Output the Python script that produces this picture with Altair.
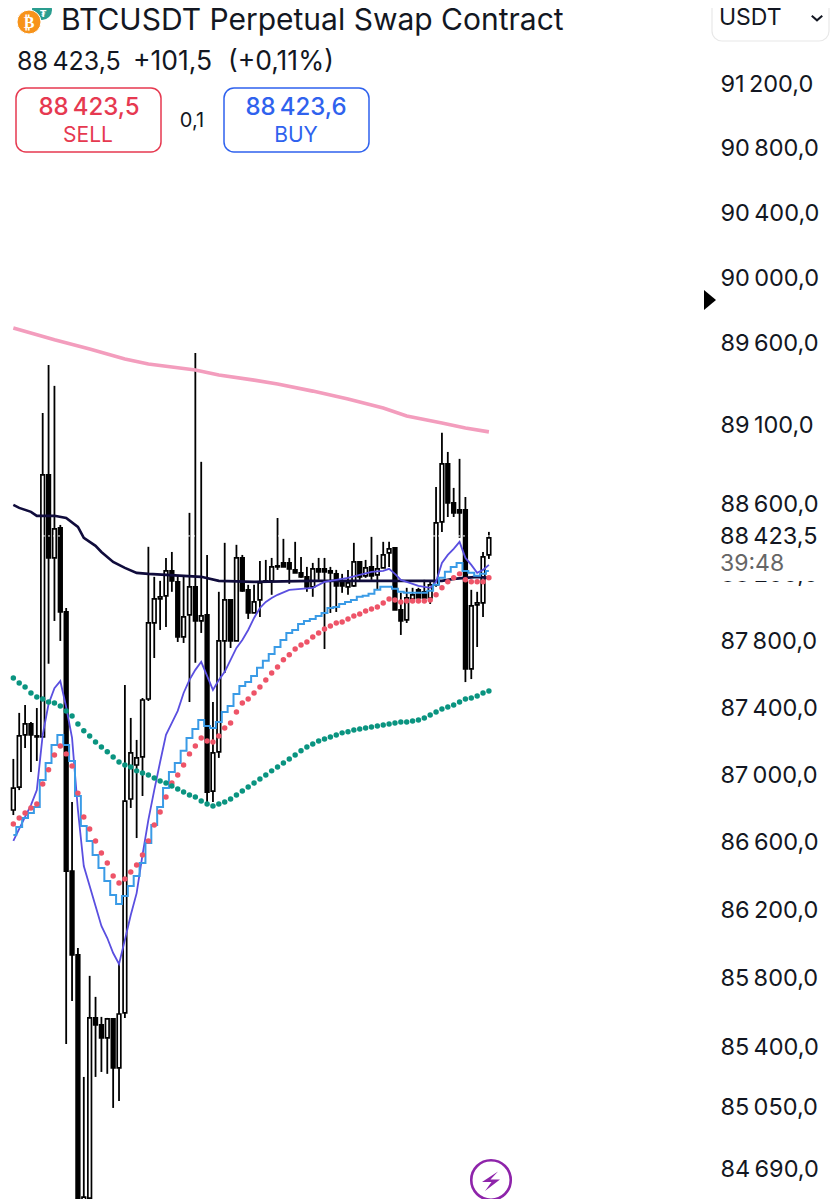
import altair as alt
import pandas as pd

opens = [86785,86921,87231,87296,87225,87219,88793,88291,88472,87966,86424,85931,84470,84516,85562,85521,85445,85556,85271,85591,
         86850,87052,87100,87445,87900,88044,88063,88213,88147,87816,87948,88117,87912,87948,86897,87130,87792,88038,87792,88291,
         88099,87960,88038,88153,88153,88243,88261,88261,88219,88201,88177,88117,88225,88225,88213,88195,88141,88117,88123,88267,
         88183,88237,88189,88231,88321,88352,87978,87918,88044,88099,88087,88050,88129,88508,88860,88623,88581,88581,87625,88008,88020,88309]
closes = [86915,87225,87296,87231,87219,88793,88291,88466,87966,86424,85931,84470,84522,85562,85521,85445,85556,85271,85585,86838,
          87124,87094,87439,87900,88044,88057,88213,88153,87816,87936,88117,87912,87942,86891,87124,87792,88038,87792,88291,88093,
          87960,88026,88141,88147,88237,88237,88237,88225,88201,88177,88117,88225,88207,88207,88201,88123,88123,88141,88267,88177,
          88231,88183,88225,88309,88346,87978,87912,88050,88069,88050,88050,88129,88502,88860,88623,88563,88563,87625,88002,88020,88297,88412]
highs = [87088,87362,87409,87308,87391,89169,89461,89334,88490,87990,86832,85972,85218,85808,85685,85568,85562,85556,85884,87528,
         87332,87201,87451,88358,88177,88153,88291,88327,88183,88177,88563,89535,88872,88309,87427,88087,88382,88038,88370,88309,
         88129,88129,88273,88279,88291,88532,88406,88291,88388,88297,88237,88261,88291,88291,88237,88219,88195,88219,88382,88267,
         88279,88418,88309,88388,88388,88352,88081,88111,88111,88111,88159,88147,88720,89048,88932,88714,88890,88659,88099,88087,88327,88448]
lows = [86755,86903,87153,87010,87076,87219,87655,87912,87792,85410,85661,84470,84470,84470,85218,85247,85236,85038,85078,85562,
        86797,86619,86868,87433,87690,87858,87876,88087,87786,87780,87427,87661,87840,86832,86832,87094,87600,87750,87792,88087,
        87924,87960,87936,88141,88069,88219,88237,88135,88201,88171,88087,88057,88159,87744,87960,87966,88081,88069,88117,88159,
        88171,88159,88099,88231,88237,87978,87828,87900,88020,88020,88038,88014,88117,88448,88538,88538,88412,87546,87564,87756,87936,88285]

pink_i = [1,8,14,20,24,32,36,42,46,52,58,64,68,74,78,82]
pink = [89687,89615,89559,89498,89467,89431,89400,89369,89345,89302,89254,89199,89151,89108,89078,89054]
navy_i = [1,2,4,5,8,10,12,13,15,16,18,20,22,24,33,36,42,52,72,74,76,80,82]
navy = [88611,88593,88569,88545,88545,88532,88478,88412,88364,88327,88267,88231,88201,88195,88177,88153,88147,88153,88153,88153,88165,88177,88171]
violet_i = list(range(1,47)) + [48,50,52,54,56,58,60,62,64,65,66,67,68,70,72,73,74,75,76,77,78,79,80,81,82]
violet = [86602,86673,86744,86814,86903,87231,87415,87510,87552,87397,87213,86785,86454,86336,86218,86101,86030,85942,85878,86019,
          86165,86294,86519,86726,86903,87070,87231,87302,87374,87481,87559,87619,87667,87583,87499,87559,87607,87679,87750,87798,
          87858,87930,87990,88026,88050,88069,88099,88105,88111,88147,88159,88171,88189,88207,88213,88225,88195,88159,88147,88123,
          88111,88147,88261,88309,88346,88388,88291,88249,88201,88219,88249]
blue = [86637,86684,86738,86767,86803,86963,87064,87171,87231,87171,87076,86868,86690,86602,86519,86442,86365,86283,86230,86277,
        86336,86395,86472,86590,86696,86803,86915,87010,87064,87136,87213,87266,87320,87284,87272,87308,87368,87403,87475,87523,
        87546,87583,87631,87673,87714,87756,87798,87840,87858,87894,87912,87924,87942,87960,87990,87996,88014,88026,88038,88057,
        88063,88075,88099,88117,88117,88105,88087,88081,88081,88081,88081,88093,88129,88171,88207,88237,88261,88213,88201,88183,88195,88213]
red = [86702,86738,86767,86797,86820,86939,87023,87112,87165,87118,87046,86885,86744,86673,86602,86531,86472,86395,86354,86377,
       86418,86460,86519,86602,86696,86773,86862,86945,86993,87052,87118,87165,87213,87195,87189,87225,87272,87302,87368,87421,
       87445,87481,87517,87559,87600,87636,87679,87709,87744,87768,87786,87816,87840,87864,87882,87900,87906,87924,87942,87954,
       87972,87984,87996,88020,88044,88038,88026,88032,88032,88032,88032,88038,88069,88111,88147,88171,88195,88159,88147,88147,88147,88171]
teal = [87571,87541,87517,87481,87457,87445,87427,87421,87403,87374,87344,87296,87255,87225,87189,87159,87130,87100,87070,87052,
        87040,87017,87005,86993,86975,86957,86945,86927,86910,86892,86874,86862,86838,86820,86809,86820,86832,86850,86874,86897,
        86921,86945,86969,86993,87017,87040,87064,87088,87112,87136,87159,87177,87195,87207,87219,87231,87243,87249,87260,87266,
        87272,87278,87284,87290,87296,87302,87308,87308,87314,87320,87332,87350,87368,87385,87397,87409,87427,87445,87451,87463,87481,87493]

tick_prices = [91200,90800,90400,90000,89600,89100,88625,88200,87800,87400,87000,86600,86200,85800,85400,85050,84690]
tick_labels = ["91\u2009200,0","90\u2009800,0","90\u2009400,0","90\u2009000,0","89\u2009600,0","89\u2009100,0","88\u2009600,0",
               "88\u2009200,0","87\u2009800,0","87\u2009400,0","87\u2009000,0","86\u2009600,0","86\u2009200,0","85\u2009800,0",
               "85\u2009400,0","85\u2009050,0","84\u2009690,0"]
last_price = 88423.5

FONT = "Inter"
INK = "#131722"
label_expr = "[" + ",".join(f"'{t}'" for t in tick_labels) + "][indexof([" + ",".join(map(str, tick_prices)) + "],datum.value)]"
y_axis = alt.Axis(orient="right", values=tick_prices, labelExpr=label_expr, grid=False, ticks=False, domain=False,
                  title=None, labelFont=FONT, labelFontSize=23.5, labelColor=INK, labelPadding=2, labelOffset=1.5,
                  labelOverlap=False, labelBound=False, labelFlush=False)
xs = alt.Scale(domain=[0.942, 120.17], nice=False, zero=False)
ys = alt.Scale(type="log", domain=[84511, 91668], nice=False, zero=False)
X = alt.X("i:Q", scale=xs, axis=None)
Y = alt.Y("p:Q", scale=ys, axis=y_axis)

idx = list(range(1, len(opens) + 1))
candles = pd.DataFrame({"i": idx, "o": opens, "c": closes, "h": highs, "l": lows})
candles["dir"] = ["up" if c >= o else "down" for o, c in zip(opens, closes)]
one = alt.Data(values=[{"a": 1}])

wicks = alt.Chart(candles).mark_rule(color="black", strokeWidth=1.8).encode(
    x=X, y=alt.Y("h:Q", scale=ys, axis=y_axis), y2="l:Q")
bodies = alt.Chart(candles).mark_bar(size=3.6, stroke="black", strokeWidth=1.7).encode(
    x=X, y=alt.Y("o:Q", scale=ys, axis=y_axis), y2="c:Q",
    color=alt.Color("dir:N", scale=alt.Scale(domain=["up", "down"], range=["white", "black"]), legend=None))
dash = alt.Chart(alt.Data(values=[{"p": last_price}])).mark_rule(color="white", strokeWidth=1, strokeDash=[2, 3]).encode(
    x=alt.value(0), x2=alt.value(710), y=Y)

def line(i_vals, p_vals, color, width, interp="linear"):
    df = pd.DataFrame({"i": i_vals, "p": p_vals})
    return alt.Chart(df).mark_line(color=color, strokeWidth=width, interpolate=interp).encode(x=X, y=Y)

def dots(p_vals, color):
    df = pd.DataFrame({"i": idx, "p": p_vals})
    return alt.Chart(df).mark_circle(color=color, size=30, opacity=1).encode(x=X, y=Y)

def text(s, x, y, size, color=INK, align="left", weight=400, font=FONT):
    return alt.Chart(one).mark_text(text=s, align=align, baseline="alphabetic", font=font, fontSize=size,
                                    fontWeight=weight, color=color).encode(
        x=alt.value(x - 8), y=alt.value(y - 8))

def box(x0, x1, y0, y1, stroke, width=1.5, radius=10, fill="white", fop=0):
    return alt.Chart(one).mark_rect(fill=fill, fillOpacity=fop, stroke=stroke, strokeWidth=width, cornerRadius=radius).encode(
        x=alt.value(x0 - 8), x2=alt.value(x1 - 8), y=alt.value(y0 - 8), y2=alt.value(y1 - 8))

def sym(x, y, shape, size, fill=None, stroke=None, width=0):
    kw = {}
    if fill:
        kw.update(filled=True, fill=fill, fillOpacity=1)
    else:
        kw.update(filled=False)
    if stroke:
        kw.update(stroke=stroke, strokeWidth=width)
    else:
        kw.update(strokeWidth=0)
    return alt.Chart(one).mark_point(shape=shape, size=size, opacity=1, **kw).encode(
        x=alt.value(x - 8), y=alt.value(y - 8))

RED = "#e63950"
BLUE = "#2f62ee"
PURPLE = "#8e24aa"

chart = alt.layer(
    wicks, bodies, dash,
    line(pink_i, pink, "#f39dbd", 3.6),
    line(navy_i, navy, "#100c3c", 2.6),
    line(violet_i, violet, "#5a4fe0", 1.8),
    line(idx, blue, "#3a9be6", 2, "step"),
    dots(red, "#ee5468"),
    dots(teal, "#0a9480"),
    # header
    sym(42, 10, "circle", 400, fill="#2a9d8f"),
    text("\u20ae", 43, 17, 9, color="white", align="center", font="DejaVu Sans", weight=700),
    sym(29, 22, "circle", 576, fill="#f7931a", stroke="white", width=1),
    text("\u20bf", 29, 28, 16, color="white", align="center", font="DejaVu Sans", weight=700),
    text("BTCUSDT Perpetual Swap Contract", 61, 30, 30),
    text("88\u2009423,5", 17, 70, 25),
    text("+101,5", 133, 70, 26.5),
    text("(+0,11%)", 228, 70, 26.5),
    box(16, 161, 88, 152, RED),
    text("88\u2009423,5", 89, 115, 24, color=RED, align="center", weight=500),
    text("SELL", 88, 142, 21, color=RED, align="center"),
    text("0,1", 192, 127, 20, align="center"),
    box(224, 369, 88, 152, BLUE),
    text("88\u2009423,6", 296, 115, 24, color=BLUE, align="center", weight=500),
    text("BUY", 296, 142, 21, color=BLUE, align="center"),
    box(712, 829, -10, 41, "#e8e8e8", width=1.2),
    text("USDT", 719, 25, 23),
    sym(817, 18, "M-1,-0.45 L0,0.45 L1,-0.45", 110, stroke=INK, width=2),
    # right-hand markers
    sym(710, 300, "M-0.6,-1 L0.6,0 L-0.6,1 Z", 400, fill="black"),
    box(714, 829, 524, 581, "white", width=0, radius=0, fop=1),
    text("88\u2009423,5", 720, 544, 23.5),
    text("39:48", 720, 571, 23, color="#666666"),
    # bolt badge
    sym(491, 1180, "circle", 1560, stroke=PURPLE, width=2.6),
    sym(491, 1181, "M0.7,-0.95 L-0.9,0.1 L0.05,0.1 L-0.6,1 L0.9,-0.15 L-0.05,-0.15 Z", 400, fill=PURPLE),
).properties(
    width=710, height=1191,
    padding={"left": 0, "top": 0, "right": 113, "bottom": 0},
    autosize=alt.AutoSizeParams(type="none", contains="content"),
    background="white",
).configure_view(stroke=None)

chart.save("out.html", embed_options={"renderer": "svg", "actions": False})
